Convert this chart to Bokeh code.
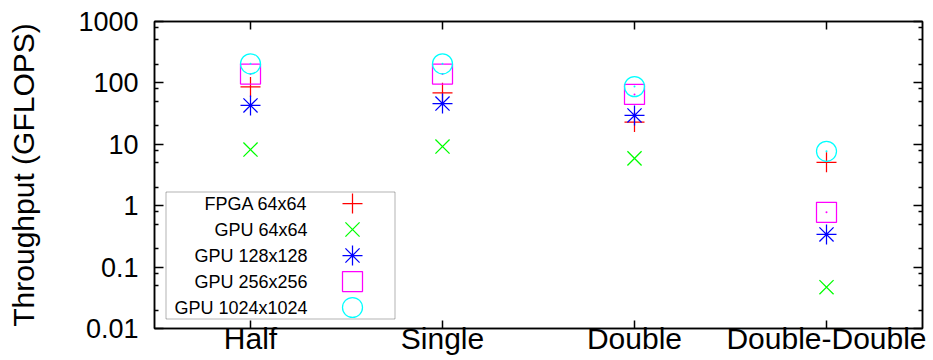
from bokeh.plotting import figure
from bokeh.models import (FactorRange, Range1d, LogAxis, CategoricalAxis, FixedTicker,
                          Legend, LegendItem, Label, BoxAnnotation, CustomJSTickFormatter,
                          ColumnDataSource)
from bokeh.core.properties import value
from bokeh.embed import file_html
from bokeh.resources import INLINE

# ---- data ----
categories = ["Half", "Single", "Double", "Double-Double"]
series_names = ["FPGA 64x64", "GPU 64x64", "GPU 128x128", "GPU 256x256", "GPU 1024x1024"]
fpga_64x64 = [86, 69, 23, 5.1]
gpu_64x64 = [8.2, 9.2, 5.9, 0.047]
gpu_128x128 = [43, 46, 29.5, 0.34]
gpu_256x256 = [139, 139, 65, 0.78]
gpu_1024x1024 = [205, 205, 87, 7.7]
y_ticks = [0.01, 0.1, 1, 10, 100, 1000]
y_tick_labels = ["0.01", "0.1", "1", "10", "100", "1000"]
y_minor_ticks = [0.02, 0.05, 0.08, 0.2, 0.5, 0.8, 2, 5, 8, 20, 50, 80, 200, 500, 800]

# ---- styles ----
FONT = "Liberation Sans"
markers = ["cross", "x", "asterisk", "square", "circle"]
colors = ["#ff0000", "#00ff00", "#0000ff", "#ff00ff", "#00ffff"]
has_dot = [False, False, True, True, True]
values_all = [fpga_64x64, gpu_64x64, gpu_128x128, gpu_256x256, gpu_1024x1024]

p = figure(x_range=FactorRange(factors=categories), y_range=Range1d(0.01, 1000),
           y_axis_type="log", frame_width=768, frame_height=307,
           min_border_left=154, min_border_right=11, min_border_top=21, min_border_bottom=32,
           output_backend="svg", toolbar_location=None)
p.background_fill_color = "white"
p.border_fill_color = "white"
p.outline_line_color = "black"
p.outline_line_width = 1.5
p.xgrid.visible = False
p.ygrid.visible = False

renderers = []
for name, vals, mk, col, dot in zip(series_names, values_all, markers, colors, has_dot):
    src = ColumnDataSource(dict(x=categories, y=vals))
    r = p.scatter("x", "y", source=src, marker=mk, size=20, line_color=col,
                  fill_color=col, fill_alpha=0, line_width=1.25)
    renderers.append(r)
    if dot:
        p.scatter("x", "y", source=src, marker="dot", size=8, line_color=col, fill_color=col)

# bottom x axis
xa = p.xaxis[0]
xa.major_label_text_font = FONT
xa.major_label_text_font_size = "30px"
xa.major_label_text_color = "black"
xa.major_label_standoff = -7
xa.major_tick_in = 8
xa.major_tick_out = 0
xa.axis_line_color = "black"
xa.axis_line_width = 1.5
xa.major_tick_line_width = 1.5

# left y axis
ya = p.yaxis[0]
ya.ticker = FixedTicker(ticks=y_ticks, minor_ticks=y_minor_ticks)
ya.major_label_overrides = dict(zip(y_ticks, y_tick_labels))
ya.major_label_text_font = FONT
ya.major_label_text_font_size = "27px"
ya.major_label_text_color = "black"
ya.major_label_standoff = 16
ya.major_tick_in = 9
ya.major_tick_out = 0
ya.minor_tick_in = 4
ya.minor_tick_out = 0
ya.major_tick_line_width = 1.5
ya.minor_tick_line_width = 1.5
ya.axis_line_width = 1.5
ya.axis_label = "Throughput (GFLOPS)"
ya.axis_label_text_font = FONT
ya.axis_label_text_font_size = "30px"
ya.axis_label_text_font_style = "normal"
ya.axis_label_text_color = "black"
ya.axis_label_standoff = 35

# mirrored axes (ticks only)
ra = LogAxis(ticker=FixedTicker(ticks=y_ticks, minor_ticks=y_minor_ticks),
             formatter=CustomJSTickFormatter(code="return ''"),
             major_tick_in=9, major_tick_out=0, minor_tick_in=4, minor_tick_out=0,
             major_label_text_font_size="1px", major_label_standoff=0,
             axis_line_width=1.5, major_tick_line_width=1.5, minor_tick_line_width=1.5)
p.add_layout(ra, "right")
ta = CategoricalAxis(formatter=CustomJSTickFormatter(code="return ''"),
                     major_tick_in=8, major_tick_out=0,
                     major_label_text_font_size="1px", major_label_standoff=0,
                     axis_line_width=1.5, major_tick_line_width=1.5)
p.add_layout(ta, "above")

# legend: box, right-aligned texts, marker samples to the right (one row each)
p.add_layout(BoxAnnotation(left=11.5, right=240.5, bottom=9.5, top=136.5,
                           left_units="screen", right_units="screen",
                           bottom_units="screen", top_units="screen",
                           fill_color=None, line_color="black", line_width=1,
                           level="overlay"))
row_top = 125      # screen offset of first legend row above the frame bottom
row_pitch = 26
for i, (name, r) in enumerate(zip(series_names, renderers)):
    yc = row_top - i * row_pitch
    p.add_layout(Label(x=153, y=yc, x_units="screen", y_units="screen",
                       text=name, text_align="right", text_baseline="middle",
                       text_font=FONT, text_font_size="18px", text_color="black"))
    lg = Legend(items=[LegendItem(label=value(""), renderers=[r])],
                location=(173, yc - 25), orientation="vertical",
                glyph_width=50, glyph_height=50, spacing=0,
                label_width=0, label_standoff=0, label_height=20,
                padding=0, margin=0, border_line_color=None,
                background_fill_alpha=0, label_text_font_size="1px")
    p.add_layout(lg)

open("out.html", "w").write(file_html(p, INLINE))
